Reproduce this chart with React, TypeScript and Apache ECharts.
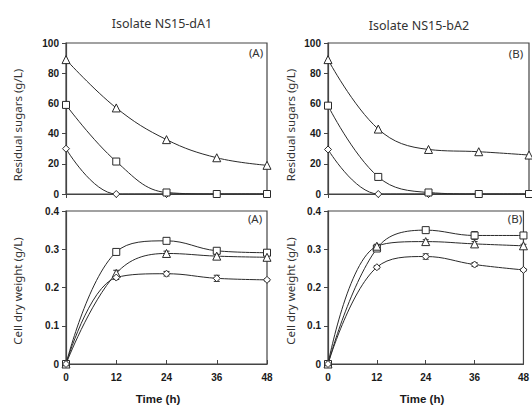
import React, { useEffect, useRef } from "react";
import * as echarts from "echarts";

const hours = [0, 12, 24, 36, 48];

// Residual sugars (g/L)
const sugarA_tri = [89, 57, 36, 24, 19];
const sugarA_sq = [59, 21.5, 1, 0, 0];
const sugarA_dia = [30, 0, 0, 0, 0];
const sugarB_tri = [89, 43, 29.5, 28, 25.8];
const sugarB_sq = [58.5, 11.3, 1, 0, 0];
const sugarB_dia = [29.5, 0, 0, 0, 0];

// Cell dry weight (g/L)
const cdwA_sq = [0, 0.293, 0.322, 0.296, 0.291];
const cdwA_tri = [0, 0.237, 0.289, 0.282, 0.279];
const cdwA_dia = [0, 0.226, 0.236, 0.224, 0.22];
const cdwB_sq = [0, 0.302, 0.35, 0.336, 0.336];
const cdwB_tri = [0, 0.308, 0.32, 0.314, 0.309];
const cdwB_dia = [0, 0.253, 0.281, 0.26, 0.246];

// error bars (half-width)
const errA_sq = [0, 0.006, 0.005, 0.005, 0.007];
const errA_tri = [0, 0.008, 0.006, 0.005, 0.008];
const errA_dia = [0, 0.005, 0.006, 0.008, 0.003];
const errB_sq = [0, 0.006, 0.004, 0.01, 0.004];
const errB_tri = [0, 0.005, 0.005, 0.006, 0.004];
const errB_dia = [0, 0.004, 0.007, 0.005, 0.003];

const titles = ["Isolate NS15-dA1", "Isolate NS15-bA2"];
const panelTags = ["(A)", "(B)"];
const yNames = ["Residual sugars (g/L)", "Cell dry weight (g/L)"];
const xName = "Time (h)";

const INK = "#2a2a2a";
const AX = "#444";

export default function App() {
  const ref = useRef<HTMLDivElement>(null);
  useEffect(() => {
    if (!ref.current) return;
    const chart = echarts.init(ref.current, null, { renderer: "svg" });

    const grids = [
      { left: 66, top: 43, width: 201, height: 151 },
      { left: 328, top: 43, width: 201, height: 151 },
      { left: 66, top: 211, width: 201, height: 153 },
      { left: 328, top: 211, width: 201, height: 153 },
    ].map((g) => ({ ...g, show: true, borderColor: AX, borderWidth: 1.2, backgroundColor: "transparent" }));

    const tickFont = { fontFamily: "Liberation Sans", fontWeight: "bold" as const, fontSize: 10, color: "#1a1a1a" };

    const xAxes = grids.map((_, i) => ({
      type: "value" as const,
      gridIndex: i,
      min: 0,
      max: 48,
      interval: 12,
      splitLine: { show: false },
      axisLine: { show: true, onZero: false, lineStyle: { color: AX, width: 1.2 } },
      axisTick: { show: true, inside: i >= 2, length: 4, lineStyle: { color: AX } },
      axisLabel: { show: i >= 2, margin: 8, ...tickFont },
    }));

    const yAxes = grids.map((_, i) => ({
      type: "value" as const,
      gridIndex: i,
      min: 0,
      max: i < 2 ? 100 : 0.4,
      interval: i < 2 ? 20 : 0.1,
      splitLine: { show: false },
      axisLine: { show: true, lineStyle: { color: AX, width: 1.2 } },
      axisTick: { show: true, length: 4, lineStyle: { color: AX } },
      axisLabel: {
        margin: 7,
        ...tickFont,
        formatter: (v: number) => (i < 2 ? String(v) : v === 0 ? "0" : v.toFixed(1)),
      },
    }));

    const mk = (data: number[], symbol: string, gi: number) => ({
      type: "line" as const,
      xAxisIndex: gi,
      yAxisIndex: gi,
      data: hours.map((h, k) => [h, data[k]]),
      smooth: 0.4,
      symbol,
      symbolSize: symbol === "triangle" ? 8 : 7,
      showSymbol: true,
      lineStyle: { color: INK, width: 1 },
      itemStyle: { color: "#fff", borderColor: INK, borderWidth: 1 },
      z: 3,
    });

    const errSeries = (vals: number[], err: number[], gi: number) => ({
      type: "custom" as const,
      xAxisIndex: gi,
      yAxisIndex: gi,
      z: 2,
      data: hours.map((h, k) => [h, vals[k] - err[k], vals[k] + err[k]]).filter((d, k) => err[k] > 0),
      renderItem: (_p: any, api: any) => {
        const lo = api.coord([api.value(0), api.value(1)]);
        const hi = api.coord([api.value(0), api.value(2)]);
        const hw = 3;
        const st = { stroke: INK, lineWidth: 1 };
        return {
          type: "group",
          children: [
            { type: "line", shape: { x1: lo[0], y1: lo[1], x2: hi[0], y2: hi[1] }, style: st },
            { type: "line", shape: { x1: lo[0] - hw, y1: lo[1], x2: lo[0] + hw, y2: lo[1] }, style: st },
            { type: "line", shape: { x1: hi[0] - hw, y1: hi[1], x2: hi[0] + hw, y2: hi[1] }, style: st },
          ],
        };
      },
    });

    const series: any[] = [
      mk(sugarA_tri, "triangle", 0),
      mk(sugarA_dia, "diamond", 0),
      mk(sugarA_sq, "rect", 0),
      mk(sugarB_tri, "triangle", 1),
      mk(sugarB_dia, "diamond", 1),
      mk(sugarB_sq, "rect", 1),
      errSeries(cdwA_sq, errA_sq, 2),
      errSeries(cdwA_tri, errA_tri, 2),
      errSeries(cdwA_dia, errA_dia, 2),
      mk(cdwA_sq, "rect", 2),
      mk(cdwA_tri, "triangle", 2),
      mk(cdwA_dia, "diamond", 2),
      errSeries(cdwB_sq, errB_sq, 3),
      errSeries(cdwB_tri, errB_tri, 3),
      errSeries(cdwB_dia, errB_dia, 3),
      mk(cdwB_sq, "rect", 3),
      mk(cdwB_tri, "triangle", 3),
      mk(cdwB_dia, "diamond", 3),
    ];

    const labelFont = { fontFamily: "Noto Sans", fontSize: 11.5, fill: "#333" };
    const graphic: any[] = [
      { type: "text", x: 162, y: 23, style: { text: titles[0], ...labelFont, fontSize: 12.5, align: "center", verticalAlign: "middle" } },
      { type: "text", x: 419, y: 25, style: { text: titles[1], ...labelFont, fontSize: 12.5, align: "center", verticalAlign: "middle" } },
      { type: "text", x: 17, y: 125, rotation: Math.PI / 2, style: { text: yNames[0], ...labelFont, align: "center", verticalAlign: "middle" } },
      { type: "text", x: 290, y: 125, rotation: Math.PI / 2, style: { text: yNames[0], ...labelFont, align: "center", verticalAlign: "middle" } },
      { type: "text", x: 17, y: 291, rotation: Math.PI / 2, style: { text: yNames[1], ...labelFont, align: "center", verticalAlign: "middle" } },
      { type: "text", x: 290, y: 291, rotation: Math.PI / 2, style: { text: yNames[1], ...labelFont, align: "center", verticalAlign: "middle" } },
      { type: "text", x: 158, y: 399, style: { text: xName, fontFamily: "Liberation Sans", fontWeight: "bold", fontSize: 11.5, fill: "#1a1a1a", align: "center", verticalAlign: "middle" } },
      { type: "text", x: 422, y: 399, style: { text: xName, fontFamily: "Liberation Sans", fontWeight: "bold", fontSize: 11.5, fill: "#1a1a1a", align: "center", verticalAlign: "middle" } },
      { type: "text", x: 256, y: 52, style: { text: panelTags[0], ...labelFont, fontSize: 11.5, align: "center", verticalAlign: "middle" } },
      { type: "text", x: 516, y: 53, style: { text: panelTags[1], ...labelFont, fontSize: 11.5, align: "center", verticalAlign: "middle" } },
      { type: "text", x: 255, y: 218, style: { text: panelTags[0], ...labelFont, fontSize: 11.5, align: "center", verticalAlign: "middle" } },
      { type: "text", x: 515, y: 218, style: { text: panelTags[1], ...labelFont, fontSize: 11.5, align: "center", verticalAlign: "middle" } },
    ];

    chart.setOption({
      animation: false,
      backgroundColor: "#fff",
      grid: grids,
      xAxis: xAxes,
      yAxis: yAxes,
      series,
      graphic,
    });
    return () => chart.dispose();
  }, []);

  return (
    <div
      ref={ref}
      style={{ position: "fixed", left: 0, top: 0, width: 532, height: 406, background: "#fff" }}
    />
  );
}
